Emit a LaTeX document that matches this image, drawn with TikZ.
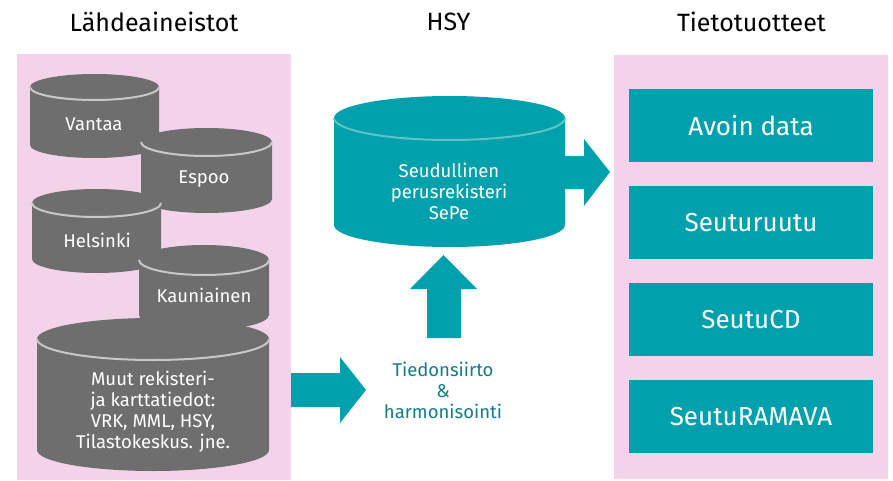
\documentclass[tikz,border=0pt]{standalone}
\usepackage{fontspec}
\setmainfont{Fira Sans}
\usetikzlibrary{positioning}

\definecolor{hsygray}{HTML}{6E6E6E}
\definecolor{hsyrim}{HTML}{C8C8C8}
\definecolor{hsyteal}{HTML}{00A0AD}
\definecolor{hsytealrim}{HTML}{5EC3CB}
\definecolor{hsydark}{HTML}{127B86}
\definecolor{hsypink}{HTML}{F3D3E9}

% database drum: fill, rim, centre x, top y, bottom y, x radius, y radius
\newcommand{\dbdrum}[7]{%
  \fill[#1] (#3-#6,#4) -- (#3-#6,#5)
    arc[start angle=180, end angle=360, x radius=#6, y radius=#7]
    -- (#3+#6,#4)
    arc[start angle=0, end angle=180, x radius=#6, y radius=#7] -- cycle;
  \draw[#2, line width=2pt] (#3-#6,#4)
    arc[start angle=180, end angle=360, x radius=#6, y radius=#7];
}

\begin{document}
\begin{tikzpicture}[
    x=1pt, y=1pt,
    node distance=23.5pt,
    title/.style={font=\fontsize{25}{28}\selectfont, text=black},
    drumtext/.style={text=white, align=center, font=\fontsize{18.5}{21}\selectfont},
    product/.style={rectangle, fill=hsyteal, text=white, minimum width=244pt, minimum height=73pt, font=\fontsize{26}{30}\selectfont},
    flowtext/.style={text=hsydark, align=center, font=\fontsize{18.5}{21}\selectfont}
  ]
    \useasboundingbox (0,0) rectangle (893,480);

    % Column headings
    \node[title] (srchead) at (154,458) {Lähdeaineistot};
    \node[title] (hsyhead) at (448.5,458) {HSY};
    \node[title] (outhead) at (751.5,458) {Tietotuotteet};

    % Pink panels
    \fill[hsypink] (17,0) rectangle (291,426);
    \fill[hsypink] (614,1) rectangle (888,425);

    % Source registers, stacked
    \dbdrum{hsygray}{hsyrim}{94.5}{393}{335}{64.5}{13}
    \node[drumtext] (vantaa) at (94,356) {Vantaa};
    \dbdrum{hsygray}{hsyrim}{206.5}{338}{281}{65.5}{14}
    \node[drumtext] (espoo) at (204,301) {Espoo};
    \dbdrum{hsygray}{hsyrim}{96.5}{277}{221}{64.5}{14}
    \node[drumtext] (helsinki) at (97,240) {Helsinki};
    \dbdrum{hsygray}{hsyrim}{204}{220}{165}{65}{15}
    \node[drumtext] (kauniainen) at (204,185) {Kauniainen};
    \dbdrum{hsygray}{hsyrim}{153}{141}{30}{116}{21}
    \node[drumtext] (muut) at (153,68) {Muut rekisteri-\\ja karttatiedot:\\VRK, MML, HSY,\\Tilastokeskus. jne.};

    % Regional register
    \dbdrum{hsyteal}{hsytealrim}{449.5}{362}{255}{115.5}{22}
    \node[drumtext] (sepe) at (449,289) {Seudullinen\\perusrekisteri\\SePe};

    % Transfer step
    \node[flowtext] (flow) at (443,90) {Tiedonsiirto\\\&\\harmonisointi};

    % Block arrows
    \coordinate (srcout) at (291,90);
    \coordinate (flowin) at (366,90);
    \fill[hsyteal] (srcout) ++(0,17) -- ++(49,0) -- ++(0,16) -- (flowin)
      -- ++(-26,-33) -- ++(0,16) -- ++(-49,0) -- cycle;
    \coordinate (flowout) at (444,142);
    \coordinate (sepein) at (443.5,225);
    \fill[hsyteal] (flowout) ++(-17,0) -- ++(0,49) -- ++(-17,0) -- (sepein)
      -- ++(33.5,-34) -- ++(-16,0) -- ++(0,-49) -- cycle;
    \coordinate (sepeout) at (565,308);
    \coordinate (prodin) at (610,308);
    \fill[hsyteal] (sepeout) ++(0,16) -- ++(19,0) -- ++(0,17) -- (prodin)
      -- ++(-26,-34) -- ++(0,17) -- ++(-19,0) -- cycle;

    % Data products
    \node[product] (avoin) at (751,354.5) {Avoin data};
    \node[product, below=of avoin] (ruutu) {Seuturuutu};
    \node[product, below=of ruutu] (seutucd) {SeutuCD};
    \node[product, below=of seutucd] (ramava) {SeutuRAMAVA};
  \end{tikzpicture}
\end{document}
